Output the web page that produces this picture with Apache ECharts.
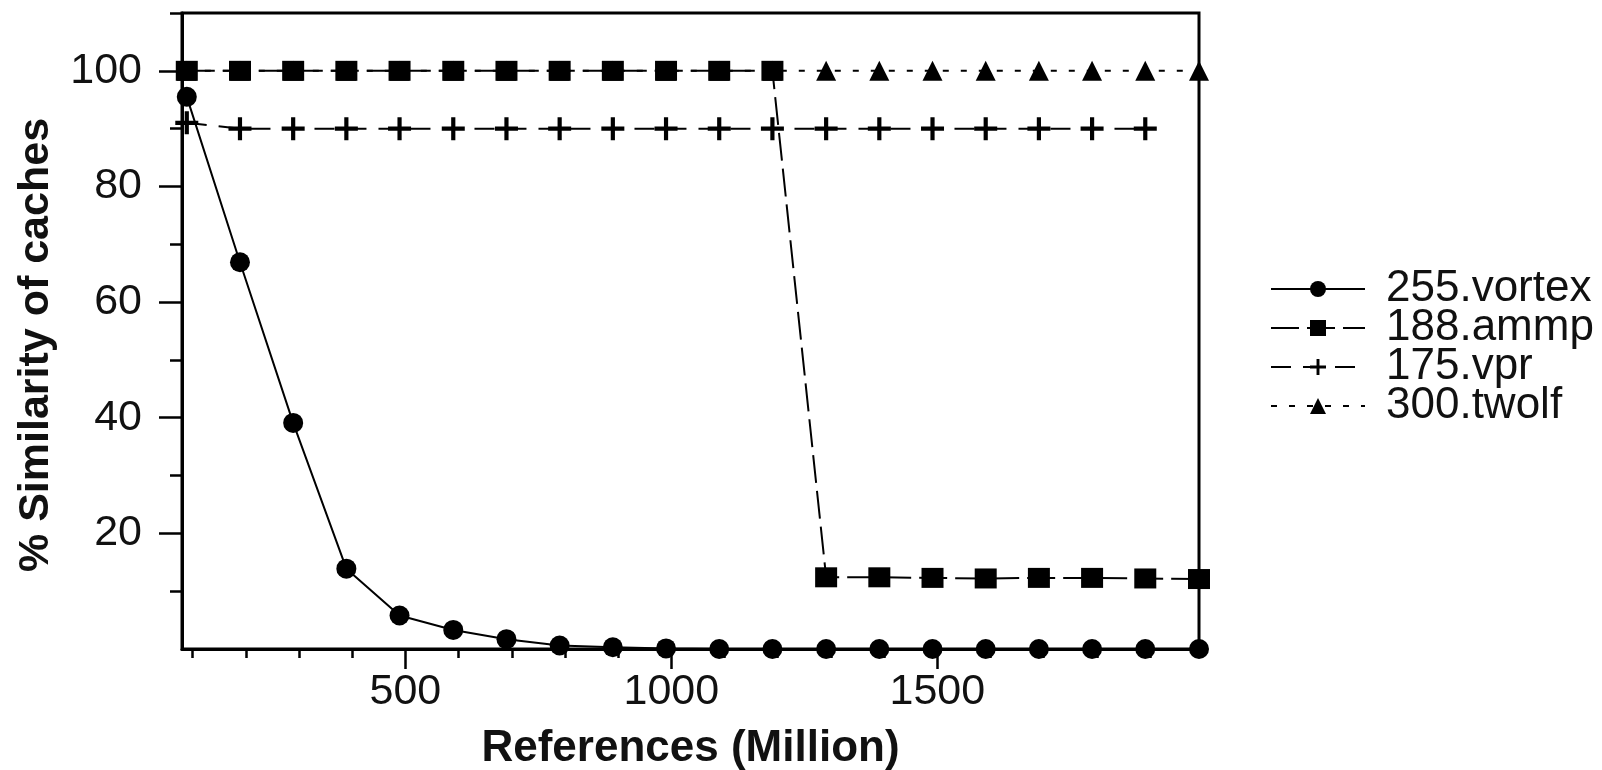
<!DOCTYPE html>
<html><head><meta charset="utf-8">
<script src="https://cdn.jsdelivr.net/npm/echarts@6/dist/echarts.min.js"></script>
<style>html,body{margin:0;padding:0;background:#fff}#c{width:1602px;height:770px}</style>
</head><body><div id="c"></div>
<script>
// References (Million) at each sample
const refs = [89, 189, 289, 389, 489, 590, 690, 790, 890, 990, 1090, 1190, 1291, 1391, 1491, 1591, 1691, 1791, 1891, 1992];
// % similarity of caches
const vortex = [95.5, 66.9, 39.1, 13.9, 5.8, 3.3, 1.7, 0.6, 0.3, 0.1, 0, 0, 0, 0, 0, 0, 0, 0, 0, 0];
const ammp = [100, 100, 100, 100, 100, 100, 100, 100, 100, 100, 100, 100, 12.4, 12.4, 12.3, 12.2, 12.3, 12.3, 12.2, 12.1];
const vpr = [91, 90, 90, 90, 90, 90, 90, 90, 90, 90, 90, 90, 90, 90, 90, 90, 90, 90, 90];
const twolf = [100, 100, 100, 100, 100, 100, 100, 100, 100, 100, 100, 100, 100, 100, 100, 100, 100, 100, 100, 100];
const seriesNames = ['255.vortex', '188.ammp', '175.vpr', '300.twolf'];
const xMajorTicks = [500, 1000, 1500];
const xMinorTicks = [100, 200, 300, 400, 600, 700, 800, 900, 1100, 1200, 1300, 1400, 1600, 1700, 1800, 1900];
const yMajorTicks = [20, 40, 60, 80, 100];
const yMinorTicks = [10, 30, 50, 70, 90, 110];
const xRange = [80, 1992];
const yRange = [0, 110];

const FONT = '"Liberation Sans", Arial, sans-serif';
const pair = arr => arr.map((v, i) => [refs[i], v]);
const plus = 'path://M9,0h4v9h9v4h-9v9h-4v-9h-9v-4h9z';

const grid = {left: 182, top: 13, width: 1017, height: 636, containLabel: false, outerBoundsMode: 'none'};
const chart = echarts.init(document.getElementById('c'), null, {renderer: 'canvas'});
chart.setOption({
  animation: false,
  backgroundColor: '#fff',
  grid: [
    Object.assign({show: true, borderColor: '#000', borderWidth: 3, backgroundColor: 'transparent'}, grid),
    Object.assign({show: false}, grid)
  ],
  xAxis: [
    {
      type: 'value', gridIndex: 0, min: xRange[0], max: xRange[1],
      name: 'References (Million)', nameLocation: 'middle', nameGap: 77,
      nameTextStyle: {fontFamily: FONT, fontSize: 44, fontWeight: 'bold', color: '#111', lineHeight: 46},
      axisLine: {show: true, onZero: false, lineStyle: {color: '#000', width: 3}},
      axisTick: {show: true, customValues: xMajorTicks, length: 20, lineStyle: {color: '#000', width: 2.5}},
      axisLabel: {show: true, customValues: xMajorTicks, margin: 22, fontFamily: FONT, fontSize: 43, color: '#111', lineHeight: 43,
                  formatter: v => String(v)},
      splitLine: {show: false}
    },
    {
      type: 'value', gridIndex: 1, min: xRange[0], max: xRange[1],
      axisLine: {show: false},
      axisTick: {show: true, customValues: xMinorTicks, length: 9, lineStyle: {color: '#000', width: 2.5}},
      axisLabel: {show: false}, splitLine: {show: false}
    }
  ],
  yAxis: [
    {
      type: 'value', gridIndex: 0, min: yRange[0], max: yRange[1],
      name: '% Similarity of caches', nameLocation: 'middle', nameRotate: 90, nameGap: 119,
      nameTextStyle: {fontFamily: FONT, fontSize: 43, fontWeight: 'bold', color: '#111', lineHeight: 46, padding: [0, 28, 0, 0]},
      axisLine: {show: true, onZero: false, lineStyle: {color: '#000', width: 3}},
      axisTick: {show: true, customValues: yMajorTicks, length: 23, lineStyle: {color: '#000', width: 2.5}},
      axisLabel: {show: true, customValues: yMajorTicks, margin: 40, fontFamily: FONT, fontSize: 43, color: '#111',
                  formatter: v => String(v)},
      splitLine: {show: false}
    },
    {
      type: 'value', gridIndex: 1, min: yRange[0], max: yRange[1],
      axisLine: {show: false},
      axisTick: {show: true, customValues: yMinorTicks, length: 12, lineStyle: {color: '#000', width: 2.5}},
      axisLabel: {show: false}, splitLine: {show: false}
    }
  ],
  legend: {
    orient: 'vertical', left: 1265, top: 262, itemWidth: 94, itemHeight: 20, itemGap: -5,
    data: seriesNames,
    textStyle: {fontFamily: FONT, fontSize: 44, color: '#111', lineHeight: 40, padding: [0, 0, 0, 16]}
  },
  series: [
    {
      name: seriesNames[3], type: 'line', data: pair(twolf), z: 2,
      symbol: 'triangle', symbolSize: 20,
      itemStyle: {color: '#000'}, lineStyle: {color: '#000', width: 2, type: [6, 12]}
    },
    {
      name: seriesNames[2], type: 'line', data: pair(vpr), z: 3,
      symbol: plus, symbolSize: 23,
      itemStyle: {color: '#000'}, lineStyle: {color: '#000', width: 2, type: [20, 12]}
    },
    {
      name: seriesNames[1], type: 'line', data: pair(ammp), z: 4,
      symbol: 'rect', symbolSize: [22, 20],
      itemStyle: {color: '#000'}, lineStyle: {color: '#000', width: 2, type: [28, 8]}
    },
    {
      name: seriesNames[0], type: 'line', data: pair(vortex), z: 5,
      symbol: 'circle', symbolSize: 20,
      itemStyle: {color: '#000'}, lineStyle: {color: '#000', width: 2, type: 'solid'}
    }
  ]
});
</script>
</body></html>
